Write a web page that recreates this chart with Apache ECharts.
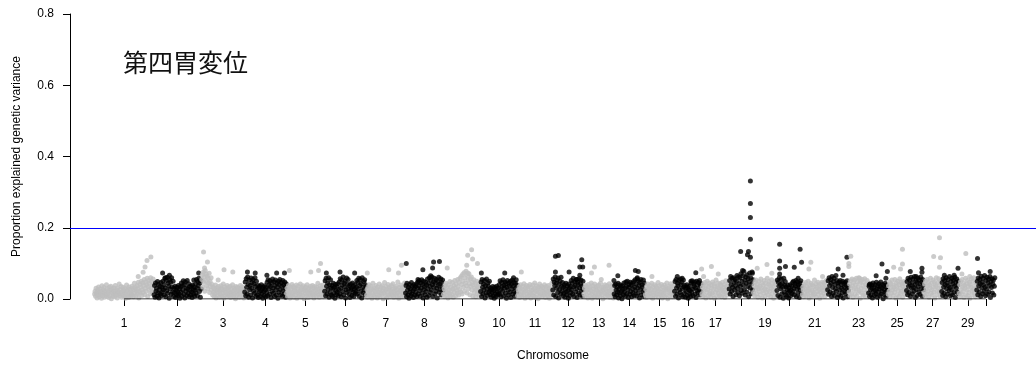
<!DOCTYPE html>
<html>
<head>
<meta charset="utf-8">
<script src="https://cdn.jsdelivr.net/npm/echarts@6/dist/echarts.min.js"></script>
<style>
html,body{margin:0;padding:0;background:#fff;}
#chart{width:1036px;height:368px;}
</style>
</head>
<body>
<div id="chart"></div>
<script>
// Chromosome lengths (relative map units)
const chrLength = [61,49,44,43,39,43,40,39,38,38,36,32,31,32,30,28,28,25,24,26,26,22,20,20,19,18,18,18,18,19];
const chrLabels = ['1','2','3','4','5','6','7','8','9','10','11','12','13','14','15','16','17','18','19','20','21','22','23','24','25','26','27','28','29','30'];
const shownLabels = ['1','2','3','4','5','6','7','8','9','10','11','12','13','14','15','16','17','19','21','23','25','27','29'];
const yTicks = [0, 0.2, 0.4, 0.6, 0.8];
const threshold = 0.2;
const titleText = '第四胃変位';
const xName = 'Chromosome';
const yName = 'Proportion explained genetic variance';

// Bulk SNP values per chromosome, evenly spaced along the chromosome (proportion x 1000)
const chr1 = [14,22,8,30,17,3,25,11,34,19,6,28,13,21,2,37,16,9,26,32,5,18,23,12,40,7,29,15,20,4,33,10,24,36,1,19,27,8,14,31,22,6,38,17,11,25,3,30,20,13,42,9,27,16,35,5,21,12,33,24,7,18,29,2,15,39,23,10,28,4,34,17,26,8,20,13,36,11,30,6,25,44,18,32,9,23,37,14,28,47,3,21,41,16,33,50,10,26,45,19,38,55,12,30,48,22,40,58,7,35,52,27,44,15,60,31,49,20,39,56,24];
const chr2 = [12,38,5,45,22,30,8,49,17,41,3,27,35,14,46,9,33,20,50,26,40,11,58,31,6,52,23,61,16,44,36,2,55,28,47,13,60,34,19,50,7,30,18,36,4,25,12,33,21,9,38,15,28,2,34,19,45,8,37,26,51,13,40,3,48,22,31,10,52,29,16,43,6,35,24,11,36,20,4,39,27,14,33,8,25,42,17,55,30,9,49,37,58,21,45,5,52,28];
const chr3 = [55,68,34,75,47,62,22,80,51,70,38,64,29,58,44,72,18,49,36,60,25,41,12,33,20,7,28,15,39,3,24,31,10,18,35,26,5,21,13,37,30,8,27,16,42,2,23,34,11,19,29,6,38,14,25,32,9,20,36,4,17,28,12,40,22,7,31,15,26,1,35,19,10,33,24,13,30,5,21,38,16,27,8,34,11,23,3,29];
const chr4 = [20,48,9,57,33,14,62,41,5,53,26,38,11,59,30,46,3,55,22,43,16,60,35,8,50,27,12,38,4,31,19,36,7,24,40,15,29,2,34,21,10,37,25,6,32,18,47,9,54,28,40,13,51,35,4,45,22,56,31,16,49,7,38,53,25,11,44,33,2,50,19,41,55,27,12,46,36,8,52,23,39,15,48,30,5,43];
const chr5 = [16,30,7,24,38,12,20,3,33,27,9,41,18,14,35,5,25,31,11,22,39,2,17,28,36,8,21,13,42,26,6,32,19,10,37,24,1,29,15,34,23,9,40,18,4,27,31,13,20,36,7,25,16,38,11,30,3,22,35,14,26,8,33,19,44,12,28,5,21,37,15,30,10,24,39,6,17,32];
const chr6 = [22,51,9,58,36,14,45,27,60,5,40,18,54,31,11,38,7,29,44,16,33,2,41,24,12,36,20,43,9,27,48,15,57,30,6,53,39,21,62,11,44,34,50,3,26,59,18,41,55,28,13,37,4,42,25,31,10,45,19,35,7,28,40,16,22,33,52,14,46,29,58,8,38,55,21,43,3,60,32,17,49,26,54,11,40,35];
const chr7 = [11,27,5,33,19,40,14,23,8,36,29,2,17,44,25,12,31,6,21,38,15,28,3,34,20,10,42,26,7,18,32,13,37,24,1,30,16,46,22,9,35,27,4,19,41,12,29,33,7,24,15,38,20,10,43,28,5,17,31,23,13,36,8,26,48,18,2,32,21,11,39,25,6,30,16,34,22,9,45,14];
const chr8 = [17,38,6,44,25,12,33,2,41,20,29,9,46,15,36,23,4,40,28,11,35,19,43,7,31,48,14,37,52,24,8,45,30,54,16,41,3,50,27,35,12,47,21,39,5,56,29,44,10,60,36,18,52,25,62,40,7,48,33,58,14,45,22,55,31,3,50,38,61,19,42,27,57,11,46,34,53,24];
const chr9 = [13,29,6,37,21,44,10,32,18,3,40,26,15,49,8,34,23,12,46,28,5,38,19,52,31,9,42,24,16,55,35,11,47,27,58,20,63,41,14,69,50,33,74,22,60,45,78,37,17,66,53,29,71,43,12,57,36,62,25,48,8,39,54,18,31,44,6,27,50,15,35,22,41,10,30,19];
const chr10 = [21,48,7,55,33,14,42,26,52,3,38,17,56,29,10,45,36,19,50,24,12,31,5,27,18,35,9,23,2,33,15,28,7,36,20,11,30,16,40,13,51,27,6,46,35,22,54,9,38,30,48,16,43,2,33,52,25,11,45,37,19,50,4,41,28,53,14,36,47,21,8,44,31,54,18,39];
const chr11 = [9,25,17,34,4,29,40,13,21,7,36,26,11,43,19,2,31,23,38,14,6,28,35,10,20,41,16,3,33,24,12,39,27,8,18,45,30,5,22,37,13,26,1,34,19,42,10,29,15,36,6,24,32,11,20,40,17,4,28,35,14,23,9,38,21,2,31,16,27,12,44,25];
const chr12 = [25,56,11,48,37,62,7,44,30,53,18,59,3,41,27,50,14,61,35,22,46,9,33,16,40,5,28,44,20,12,37,24,2,42,30,9,35,18,52,26,45,13,58,34,7,49,38,20,55,29,4,47,41,16,57,31,11,43,53,23,36,8,50,27];
const chr13 = [14,30,6,38,22,11,35,26,3,41,18,29,9,33,24,45,13,2,37,20,28,7,42,16,31,10,25,36,4,21,39,15,27,8,44,19,32,12,23,1,34,26,17,40,6,29,14,37,22,10,31,18,43,5,24,35,11,28,16,39,3,20];
const chr14 = [14,38,6,42,25,11,33,20,44,3,29,17,40,9,35,22,1,37,27,12,45,19,31,8,48,36,15,50,26,4,41,33,13,47,21,39,6,44,29,17,49,10,34,54,23,42,9,57,30,16,51,38,3,46,27,55,12,40,33,20,53,7,44,25];
const chr15 = [12,27,4,35,19,42,9,31,23,15,38,6,28,44,17,2,33,21,11,40,26,8,36,14,30,20,46,5,24,37,13,29,10,41,18,3,34,22,16,39,7,27,32,12,45,25,1,30,19,36,9,23,43,15,28,6,35,20,11,38];
const chr16 = [22,49,8,55,31,14,44,37,3,52,26,18,56,40,11,47,29,6,53,34,16,38,5,30,21,40,10,33,2,26,36,13,24,7,45,19,51,28,9,42,35,48,14,31,4,50,24,39,17,46,27,52,11,37,21,43];
const chr17 = [15,33,7,41,24,11,46,29,3,37,19,50,26,9,35,44,14,22,5,39,31,17,48,12,28,42,2,36,20,53,25,8,34,45,16,30,10,43,23,38,6,27,47,13,32,19,40,4,26,51,18,35,11,29,44,21];
const chr18 = [28,52,14,63,40,21,58,33,7,60,46,25,55,37,12,50,66,30,18,62,43,9,59,36,71,24,50,16,65,39,78,27,53,11,62,44,20,68,35,57,6,48,73,31,60,15,42,76,26,54];
const chr19 = [18,38,9,47,26,53,14,33,41,5,29,50,21,36,12,56,31,44,3,24,39,16,52,28,8,45,34,19,58,25,11,42,49,22,37,6,30,54,15,43,27,2,35,48,20,40,13,51];
const chr20 = [24,53,10,47,36,60,5,41,29,56,15,44,33,2,58,20,38,49,12,34,7,27,39,18,3,31,22,40,9,25,36,15,46,21,50,30,11,43,37,52,6,28,48,17,40,33,4,45,25,51,14,35];
const chr21 = [12,33,25,6,41,18,29,46,9,36,22,14,50,27,3,38,31,17,44,8,24,40,20,11,35,53,15,28,43,5,32,21,47,13,37,26,2,42,19,30,10,48,23,34,16,45,7,39,28,52,18,31];
const chr22 = [26,51,13,60,38,20,55,44,7,63,32,17,49,58,10,41,29,66,22,52,4,45,36,12,48,25,52,8,41,30,18,50,3,44,33,21,47,14,39,27,51,6,35,23];
const chr23 = [20,42,10,51,31,15,56,37,5,46,25,53,13,39,28,58,8,48,34,19,60,23,44,2,50,30,16,55,38,11,47,26,57,7,41,33,18,52,24,45];
const chr24 = [17,36,7,42,26,12,39,30,3,45,21,33,10,40,24,15,47,29,5,37,19,43,28,9,35,48,14,31,22,41,1,38,27,12,44,20,34,8,40,25];
const chr25 = [14,37,22,48,6,31,43,17,53,26,10,40,33,19,55,28,3,45,36,12,50,24,39,8,57,30,16,46,21,42,5,35,49,27,13,44,32,18];
const chr26 = [24,49,12,58,36,18,53,41,7,61,30,45,15,56,33,22,63,39,4,51,27,47,10,59,35,20,54,43,13,62,29,48,8,55,38,25];
const chr27 = [18,42,9,50,29,14,55,36,22,47,5,39,31,58,16,44,26,11,53,33,20,48,3,41,35,60,24,12,46,30,57,19,38,8,51,27];
const chr28 = [21,46,10,57,34,16,52,40,6,60,29,44,14,55,37,23,63,32,9,49,26,58,12,42,53,18,36,61,4,47,30,56,20,39,50,15];
const chr29 = [16,40,7,49,27,13,55,34,21,45,4,38,30,58,12,43,25,52,9,36,19,47,2,41,33,57,23,11,50,28,60,17,37,6,46,31];
const chr30 = [25,50,12,59,37,19,55,43,7,64,31,47,15,58,39,22,66,34,9,52,28,61,13,45,56,20,38,63,4,49,32,57,17,42,53,11,36,60];
const chrValues = [chr1,chr2,chr3,chr4,chr5,chr6,chr7,chr8,chr9,chr10,chr11,chr12,chr13,chr14,chr15,chr16,chr17,chr18,chr19,chr20,chr21,chr22,chr23,chr24,chr25,chr26,chr27,chr28,chr29,chr30];

// Higher SNPs: [chromosome, position within chromosome, proportion]
const peaks = [
  [1,45,0.063],[1,50,0.075],[1,52,0.09],[1,54,0.108],[1,58,0.118],
  [2,9,0.073],[2,12,0.06],[2,16,0.067],[2,41,0.053],[2,46,0.073],
  [3,2,0.132],[3,3,0.087],[3,6,0.104],[3,17,0.053],[3,23,0.082],[3,32,0.076],
  [4,3,0.076],[4,11,0.073],[4,23,0.067],[4,33,0.073],[4,41,0.073],
  [5,3,0.08],[5,25,0.076],[5,33,0.08],[5,35,0.1],
  [6,2,0.073],[6,16,0.076],[6,31,0.073],
  [7,1,0.073],[7,23,0.082],[7,33,0.073],[7,36,0.095],
  [8,1,0.1],[8,13,0.055],[8,18,0.082],[8,26,0.065],[8,28,0.087],[8,29,0.104],[8,35,0.105],
  [9,4,0.087],[9,24,0.095],[9,25,0.073],[9,25,0.123],[9,29,0.138],[9,30,0.112],[9,35,0.1],
  [10,1,0.073],[10,25,0.073],[10,34,0.06],
  [11,4,0.076],
  [12,3,0.12],[12,6,0.122],[12,3,0.076],[12,17,0.076],[12,25,0.055],[12,28,0.067],[12,28,0.09],[12,31,0.09],[12,30,0.11],
  [13,8,0.073],[13,11,0.09],[13,18,0.055],[13,26,0.095],
  [14,0,0.052],[14,4,0.065],[14,22,0.08],[14,24,0.06],[14,25,0.077],
  [15,7,0.063],
  [16,3,0.063],[16,8,0.058],[16,17,0.05],[16,22,0.074],
  [17,0,0.084],[17,2,0.063],[17,10,0.091],[17,17,0.07],
  [18,12,0.133],[18,14,0.08],[18,20,0.133],[18,19,0.124],[18,22,0.229],[18,22,0.331],[18,22,0.268],[18,22,0.168],[18,22,0.117],[18,24,0.072],
  [19,4,0.086],[19,14,0.097],[19,19,0.072],
  [20,3,0.154],[20,3,0.107],[20,3,0.086],[20,3,0.07],[20,9,0.091],[20,18,0.089],[20,22,0.058],[20,24,0.14],[20,25.5,0.103],
  [21,7,0.084],[21,9,0.103],[21,21,0.063],
  [22,11,0.084],[22,16,0.067],[22,20,0.117],
  [23,0,0.1],[23,0,0.091],[23,2,0.12],[23,11,0.058],
  [24,1,0.04],[24,8,0.065],[24,14,0.098],[24,18,0.058],[24,19.5,0.077],
  [25,6,0.089],[25,13,0.084],[25,15,0.098],[25,15,0.14],
  [26,4,0.077],[26,10,0.063],[26,16,0.086],[26,16,0.075],
  [27,10,0.119],[27,16,0.172],[27,16,0.089],[27,17,0.116],
  [28,3,0.067],[28,13,0.067],[28,17,0.086],
  [29,3,0.07],[29,7,0.128],[29,11,0.063],
  [30,1,0.114],[30,2,0.074],[30,14,0.077]
];

// ---- build ----
const starts = [], centers = [];
let acc = 0;
chrLength.forEach(function (len) { starts.push(acc); centers.push(acc + len / 2); acc += len; });
const total = acc;

const seriesData = chrValues.map(function (vals, i) {
  const n = vals.length, len = chrLength[i];
  return vals.map(function (v, j) { return [starts[i] + (j + 0.5) / n * len, v / 1000]; });
});
peaks.forEach(function (p) {
  const i = p[0] - 1;
  seriesData[i].push([starts[i] + p[1], p[2]]);
});

const labelCenters = shownLabels.map(function (l) { return centers[chrLabels.indexOf(l)]; });
function labelFor(v) {
  let best = 0, bd = Infinity;
  centers.forEach(function (c, i) { const d = Math.abs(c - v); if (d < bd) { bd = d; best = i; } });
  return chrLabels[best];
}

const FONT = 'Liberation Sans, Arial, sans-serif';
const series = seriesData.map(function (d, i) {
  return {
    type: 'scatter',
    data: d,
    symbol: 'circle',
    symbolSize: 5,
    itemStyle: { color: i % 2 === 0 ? '#bebebe' : '#000000' },
    silent: true,
    z: 2
  };
});
series.push({
  type: 'line',
  data: [[centers[0], 0], [centers[centers.length - 1], 0]],
  symbol: 'none',
  lineStyle: { color: '#000', width: 1 },
  silent: true,
  z: 3,
  markLine: {
    symbol: 'none',
    silent: true,
    label: { show: false },
    lineStyle: { color: '#0000ff', width: 1, type: 'solid' },
    data: [{ yAxis: threshold }]
  }
});

const chart = echarts.init(document.getElementById('chart'), null, { renderer: 'canvas' });
chart.setOption({
  animation: false,
  backgroundColor: '#ffffff',
  title: {
    text: titleText,
    left: 118,
    top: 45,
    textStyle: { fontFamily: 'Noto Sans CJK JP', fontSize: 25, fontWeight: 'normal', color: '#111' }
  },
  grid: { left: 70, right: 0, top: 14, bottom: 69, containLabel: false },
  xAxis: {
    type: 'value',
    min: -25,
    max: total + 42,
    axisLine: { show: false },
    splitLine: { show: false },
    axisTick: { show: true, customValues: centers, length: 7, lineStyle: { color: '#000' } },
    axisLabel: {
      customValues: labelCenters,
      formatter: function (v) { return labelFor(v); },
      fontFamily: FONT, fontSize: 12, color: '#000', margin: 19
    },
    name: xName,
    nameLocation: 'middle',
    nameGap: 51,
    nameTextStyle: { fontFamily: FONT, fontSize: 12, color: '#000' }
  },
  yAxis: {
    type: 'value',
    min: yTicks[0],
    max: yTicks[yTicks.length - 1],
    interval: 0.2,
    axisLine: { show: true, onZero: false, lineStyle: { color: '#000', width: 1 } },
    axisTick: { show: true, length: 7, lineStyle: { color: '#000' } },
    splitLine: { show: false },
    axisLabel: {
      formatter: function (v) { return v.toFixed(1); },
      fontFamily: FONT, fontSize: 12, color: '#000', margin: 16
    },
    name: yName,
    nameLocation: 'middle',
    nameGap: 47,
    nameTextStyle: { fontFamily: FONT, fontSize: 12, color: '#000' }
  },
  series: series
});
</script>
</body>
</html>
